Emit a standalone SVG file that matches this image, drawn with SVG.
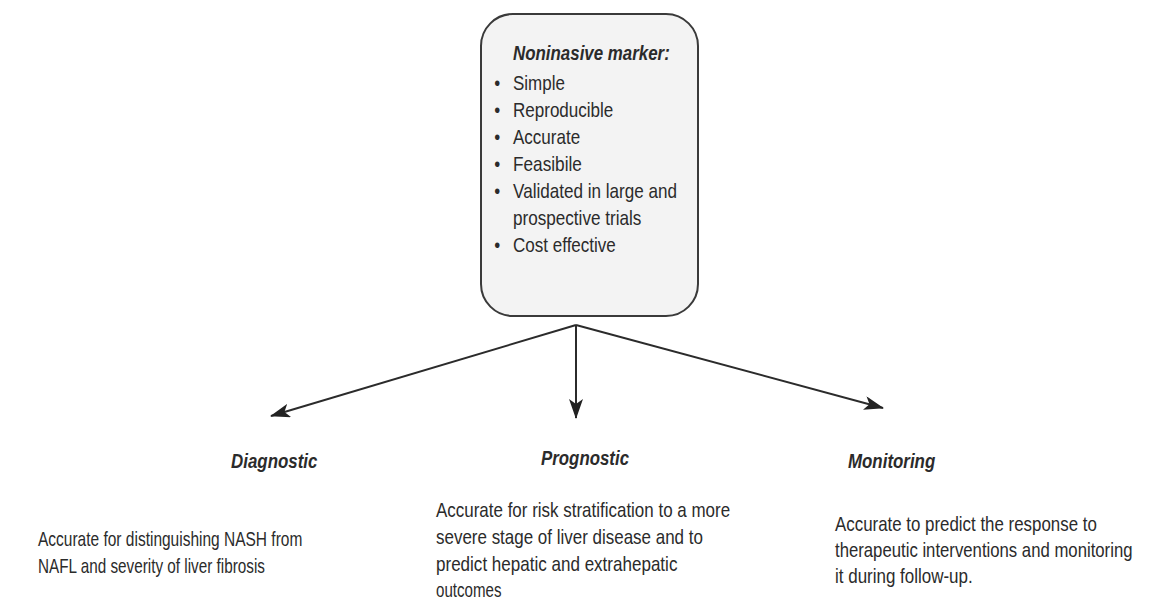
<svg xmlns="http://www.w3.org/2000/svg" width="1149" height="600" viewBox="0 0 1149 600">
<style>
text{font-family:"Liberation Sans",Arial,sans-serif;fill:#2b2b2b}
.t{font-size:20px}
.h{font-size:21px;font-weight:bold;font-style:italic}
.box{fill:#f3f3f3;stroke:#3a3a3a;stroke-width:2}
.con{stroke:#2b2b2b;stroke-width:2;fill:none}
</style>
<defs>
<marker id="ah" viewBox="0 0 20 14" refX="19" refY="7" markerWidth="20" markerHeight="14" markerUnits="userSpaceOnUse" orient="auto">
<path d="M0,0 L20,7 L0,14 L5,7 Z" fill="#222"/>
</marker>
</defs>
<rect width="1149" height="600" fill="#ffffff"/>
<g id="connectors">
<line class="con" x1="576" y1="325" x2="271" y2="416" marker-end="url(#ah)"/>
<line class="con" x1="576" y1="325" x2="576" y2="418" marker-end="url(#ah)"/>
<line class="con" x1="576" y1="325" x2="883" y2="408" marker-end="url(#ah)"/>
</g>
<g id="marker">
<rect class="box" x="481" y="14" width="217" height="302" rx="32" ry="32"/>
<g transform="translate(513,0) scale(0.8,1)">
<text class="h" x="0" y="60" textLength="196" lengthAdjust="spacingAndGlyphs">Noninasive marker:</text>
</g>
<g class="t" transform="translate(513,0) scale(0.85,1)">
<text x="-22" y="90">•</text><text x="0" y="90" textLength="61" lengthAdjust="spacingAndGlyphs">Simple</text>
<text x="-22" y="117">•</text><text x="0" y="117" textLength="118" lengthAdjust="spacingAndGlyphs">Reproducible</text>
<text x="-22" y="144">•</text><text x="0" y="144" textLength="79" lengthAdjust="spacingAndGlyphs">Accurate</text>
<text x="-22" y="171">•</text><text x="0" y="171" textLength="81" lengthAdjust="spacingAndGlyphs">Feasibile</text>
<text x="-22" y="198">•</text><text x="0" y="198" textLength="193" lengthAdjust="spacingAndGlyphs">Validated in large and</text>
<text x="0" y="225" textLength="151" lengthAdjust="spacingAndGlyphs">prospective trials</text>
<text x="-22" y="252">•</text><text x="0" y="252" textLength="121" lengthAdjust="spacingAndGlyphs">Cost effective</text>
</g>
</g>
<g id="diagnostic">
<g transform="translate(231,0) scale(0.8,1)">
<text class="h" x="0" y="468" textLength="108" lengthAdjust="spacingAndGlyphs">Diagnostic</text>
</g>
<g class="t" transform="translate(38,0) scale(0.85,1)">
<text x="0" y="546" textLength="311" lengthAdjust="spacingAndGlyphs">Accurate for distinguishing NASH from</text>
<text x="0" y="573" textLength="267" lengthAdjust="spacingAndGlyphs">NAFL and severity of liver fibrosis</text>
</g>
</g>
<g id="prognostic">
<g transform="translate(541,0) scale(0.8,1)">
<text class="h" x="0" y="465" textLength="110" lengthAdjust="spacingAndGlyphs">Prognostic</text>
</g>
<g class="t" transform="translate(436,0) scale(0.85,1)">
<text x="0" y="517" textLength="346" lengthAdjust="spacingAndGlyphs">Accurate for risk stratification to a more</text>
<text x="0" y="544" textLength="314" lengthAdjust="spacingAndGlyphs">severe stage of liver disease and to</text>
<text x="0" y="571" textLength="284" lengthAdjust="spacingAndGlyphs">predict hepatic and extrahepatic</text>
<text x="0" y="597" textLength="77" lengthAdjust="spacingAndGlyphs">outcomes</text>
</g>
</g>
<g id="monitoring">
<g transform="translate(848,0) scale(0.8,1)">
<text class="h" x="0" y="468" textLength="109" lengthAdjust="spacingAndGlyphs">Monitoring</text>
</g>
<g class="t" transform="translate(835,0) scale(0.85,1)">
<text x="0" y="531" textLength="308" lengthAdjust="spacingAndGlyphs">Accurate to predict the response to</text>
<text x="0" y="557" textLength="350" lengthAdjust="spacingAndGlyphs">therapeutic interventions and monitoring</text>
<text x="0" y="583" textLength="162" lengthAdjust="spacingAndGlyphs">it during follow-up.</text>
</g>
</g>
</svg>
